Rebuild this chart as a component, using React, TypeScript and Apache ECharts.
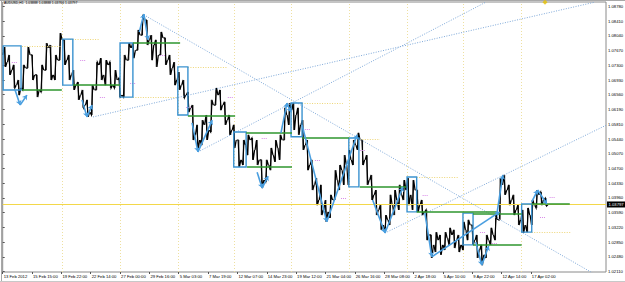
import React, { useEffect, useRef } from "react";
import * as echarts from "echarts";

// ---- axes ----
const tickStep = 64; // H1 bars between two time labels
const tickLabels = [
  "13 Feb 2012", "15 Feb 15:00", "19 Feb 22:00", "22 Feb 14:00", "27 Feb 00:00",
  "29 Feb 16:00", "5 Mar 03:00", "7 Mar 19:00", "12 Mar 07:00", "14 Mar 23:00",
  "19 Mar 12:00", "21 Mar 04:00", "26 Mar 16:00", "28 Mar 08:00", "2 Apr 18:00",
  "5 Apr 10:00", "9 Apr 22:00", "12 Apr 14:00", "17 Apr 02:00",
];
const priceLabels = [
  1.0878, 1.0841, 1.0804, 1.0767, 1.073, 1.0693, 1.0656, 1.0619, 1.0581, 1.0544,
  1.0507, 1.047, 1.0433, 1.0396, 1.0359, 1.0322, 1.0285, 1.0248, 1.0211,
];
const barMin = 0;
const barMax = 1316;
const priceMin = 1.020974;
const priceMax = 1.088933;
const symbolText = "AUDUSD,H1  1.03888 1.03888 1.03766 1.03797";

// ---- price (each candle aggregates 10 H1 bars) ----
const candleHours = 10;
const firstOpen = 1.0756;
const closes = [
  1.0738, 1.0718, 1.068, 1.0673, 1.0723, 1.0756, 1.0706, 1.0668, 1.0718, 1.0774,
  1.0706, 1.0743, 1.0794, 1.0743, 1.0706, 1.068, 1.0655, 1.063, 1.0612, 1.0668,
  1.0731, 1.0706, 1.0731, 1.068, 1.0693, 1.0655, 1.0743, 1.0774, 1.0768, 1.0806,
  1.0844, 1.0794, 1.0781, 1.0756, 1.0799, 1.0743, 1.0723, 1.0693, 1.068, 1.0655,
  1.0623, 1.0555, 1.0542, 1.058, 1.0567, 1.063, 1.0655, 1.063, 1.0592, 1.0567,
  1.0542, 1.0492, 1.0529, 1.0542, 1.0517, 1.0492, 1.0441, 1.0479, 1.0504, 1.0522,
  1.0542, 1.0605, 1.0617, 1.0605, 1.058, 1.0529, 1.0479, 1.0429, 1.0391, 1.0366,
  1.0361, 1.0391, 1.0441, 1.0466, 1.0479, 1.0492, 1.0529, 1.0542, 1.0492, 1.0441,
  1.0404, 1.0366, 1.0328, 1.0341, 1.0378, 1.0391, 1.0404, 1.0416, 1.0404, 1.0416,
  1.0378, 1.0361, 1.0303, 1.0278, 1.029, 1.0278, 1.0295, 1.0303, 1.029, 1.0278,
  1.0316, 1.0328, 1.029, 1.0265, 1.0253, 1.029, 1.0303, 1.0341, 1.0429, 1.0416,
  1.0391, 1.0366, 1.0341, 1.0328, 1.0353, 1.0378, 1.0404, 1.0391, 1.03797,
];
const highs = [
  1.0776, 1.0756, 1.0731, 1.0693, 1.0731, 1.0776, 1.0756, 1.0706, 1.0731, 1.0786,
  1.0781, 1.0756, 1.0811, 1.0794, 1.0756, 1.0718, 1.0688, 1.0668, 1.0643, 1.068,
  1.0738, 1.0748, 1.0743, 1.0738, 1.0718, 1.0698, 1.0756, 1.0786, 1.0786, 1.0819,
  1.0857, 1.0844, 1.0806, 1.0794, 1.0814, 1.0799, 1.0756, 1.0738, 1.0713, 1.0693,
  1.0663, 1.063, 1.058, 1.0592, 1.0605, 1.0643, 1.0673, 1.0668, 1.0638, 1.0605,
  1.058, 1.0542, 1.0542, 1.0555, 1.0547, 1.0542, 1.0492, 1.0492, 1.0522, 1.0542,
  1.0555, 1.0623, 1.0635, 1.0635, 1.0623, 1.0592, 1.0542, 1.0492, 1.0446, 1.0429,
  1.0391, 1.0404, 1.0466, 1.0479, 1.0504, 1.0517, 1.0542, 1.056, 1.0542, 1.0504,
  1.0454, 1.0416, 1.0378, 1.0353, 1.0404, 1.0416, 1.0429, 1.0441, 1.0446, 1.0441,
  1.0416, 1.0391, 1.0366, 1.0303, 1.031, 1.0303, 1.031, 1.0321, 1.0316, 1.0303,
  1.0336, 1.0341, 1.0328, 1.0303, 1.0278, 1.0303, 1.0321, 1.0353, 1.0446, 1.0454,
  1.0429, 1.0404, 1.0378, 1.0366, 1.0371, 1.0391, 1.0416, 1.0411, 1.0396,
];
const lows = [
  1.0726, 1.0706, 1.0673, 1.0655, 1.0668, 1.0723, 1.0693, 1.065, 1.0663, 1.0718,
  1.0693, 1.0693, 1.0743, 1.0731, 1.0693, 1.0668, 1.0643, 1.0623, 1.06, 1.0605,
  1.0668, 1.0693, 1.068, 1.0673, 1.0673, 1.065, 1.065, 1.0743, 1.0748, 1.0768,
  1.0806, 1.0781, 1.0743, 1.0726, 1.0756, 1.0731, 1.0706, 1.068, 1.0668, 1.0648,
  1.0612, 1.0542, 1.0517, 1.0529, 1.0542, 1.0562, 1.063, 1.0617, 1.058, 1.0555,
  1.0522, 1.0474, 1.0479, 1.0504, 1.0492, 1.0479, 1.0421, 1.0436, 1.0466, 1.0487,
  1.0492, 1.0542, 1.058, 1.0567, 1.0555, 1.0517, 1.0466, 1.0416, 1.0378, 1.0353,
  1.0336, 1.0346, 1.0391, 1.0416, 1.0429, 1.0429, 1.0479, 1.0517, 1.0479, 1.0429,
  1.0391, 1.0353, 1.0316, 1.0308, 1.0328, 1.0353, 1.0366, 1.0391, 1.0378, 1.0366,
  1.0361, 1.0353, 1.029, 1.0245, 1.026, 1.0253, 1.0265, 1.0278, 1.027, 1.026,
  1.0265, 1.029, 1.0278, 1.0245, 1.0227, 1.0245, 1.0278, 1.029, 1.0341, 1.0404,
  1.0378, 1.0353, 1.0328, 1.0308, 1.031, 1.0328, 1.0371, 1.0378, 1.0376,
];
const lastPrice = 1.03797;

// ---- weekly separators ----
const weekStarts = [130, 256, 383, 506, 630, 755, 882, 1005, 1131];

// ---- opening-range boxes ----
const boxStart = [1, 131, 256, 382, 504, 629, 755, 882, 1004, 1132];
const boxEnd = [40, 153, 284, 404, 531, 653, 777, 903, 1026, 1154];
const boxTop = [1.0779, 1.0796, 1.0786, 1.0726, 1.0562, 1.0635, 1.0547, 1.0449, 1.0358, 1.0381];
const boxBottom = [1.0668, 1.068, 1.065, 1.0605, 1.0474, 1.055, 1.0424, 1.0361, 1.0278, 1.031];

// ---- green levels ----
const levelStart = [42, 153, 284, 404, 531, 533, 653, 779, 903, 1026, 1026, 1154];
const levelEnd = [129, 256, 387, 507, 631, 631, 755, 880, 1078, 1132, 1132, 1237];
const levelPrice = [1.0668, 1.068, 1.0786, 1.0602, 1.056, 1.0474, 1.0547, 1.0424, 1.0361, 1.0356, 1.0278, 1.0381];

// ---- yellow dotted targets ----
const targetStart = [42, 147, 284, 404, 653, 779, 903, 1154];
const targetEnd = [129, 212, 380, 491, 742, 823, 993, 1241];
const targetPrice = [1.0779, 1.0796, 1.065, 1.0726, 1.0635, 1.0545, 1.0449, 1.031];

// ---- dotted trend lines ----
const trendFromBar = [308, 197, 426, 834];
const trendFromPrice = [1.0857, 1.06, 1.0512, 1.0308];
const trendToBar = [1287, 1292, 1054, 1316];
const trendToPrice = [1.0207, 1.0889, 1.0889, 1.0579];

// ---- swing arrows ----
const arrowFromBar = [27, 173, 298, 413, 555, 607, 653, 807, 921, 1032, 1078, 1154];
const arrowFromPrice = [1.0668, 1.0643, 1.0814, 1.0585, 1.0461, 1.056, 1.058, 1.0391, 1.0358, 1.0285, 1.0356, 1.0386];
const arrowTipBar = [38, 184, 308, 426, 566, 620, 707, 834, 936, 1045, 1091, 1167];
const arrowTipPrice = [1.063, 1.06, 1.0859, 1.0512, 1.0421, 1.0635, 1.0336, 1.0308, 1.0248, 1.0227, 1.0454, 1.0416];
const arrowToBar = [53, 195, 317, 457, 579, 629, 773, 873, 1084, 1060, null, 1187];
const arrowToPrice = [1.0655, 1.063, 1.0794, 1.0592, 1.0451, 1.0612, 1.0555, 1.0424, 1.0361, 1.0275, null, 1.0381];

// ---- small pink markers ----
const pinkBar = [20, 169, 212, 278, 343, 400, 491, 565, 659, 681, 738, 779, 916, 1041, 1067, 1172, 1193];
const pinkPrice = [1.0738, 1.0743, 1.065, 1.0685, 1.0756, 1.0625, 1.065, 1.0547, 1.057, 1.0492, 1.0396, 1.0517, 1.0404, 1.031, 1.0283, 1.0348, 1.0398];
const pinkBars = 11;

// ---- alert marker ----
const alertBar = 1183;
const alertPrice = 1.0889;

const FONT = "'Liberation Sans', Arial, sans-serif";

function buildOption() {
  const candles = closes.map((c, i) => [
    i * candleHours + candleHours / 2,
    i === 0 ? firstOpen : closes[i - 1],
    c,
    lows[i],
    highs[i],
  ]);

  const arrowSegs: any[] = [];
  arrowTipBar.forEach((tb, i) => {
    arrowSegs.push({ coords: [[arrowFromBar[i], arrowFromPrice[i]], [tb, arrowTipPrice[i]]] });
    if (arrowToBar[i] != null) {
      arrowSegs.push({ coords: [[tb, arrowTipPrice[i]], [arrowToBar[i], arrowToPrice[i]]] });
    }
  });

  return {
    animation: false,
    backgroundColor: "#ffffff",
    title: {
      text: symbolText,
      left: 4,
      top: 1.5,
      padding: 0,
      textStyle: { fontSize: 3.4, fontWeight: "normal", color: "#000", fontFamily: FONT },
    },
    grid: {
      left: 2.7,
      right: 19,
      top: 2,
      bottom: 10,
      show: true,
      borderColor: "#8a8a8a",
      borderWidth: 1,
      backgroundColor: "#ffffff",
      outerBoundsMode: "none",
    },
    xAxis: {
      type: "value",
      min: barMin,
      max: barMax,
      splitLine: { show: false },
      axisLine: { show: false },
      axisTick: {
        show: true,
        length: 2,
        customValues: tickLabels.map((_, i) => i * tickStep),
        lineStyle: { color: "#555" },
      },
      axisLabel: {
        customValues: tickLabels.map((_, i) => i * tickStep),
        formatter: (v: number) => tickLabels[Math.round(v / tickStep)] ?? "",
        align: "left",
        margin: 2.5,
        padding: [0, 0, 0, 1],
        fontSize: 4.2,
        color: "#000",
        fontFamily: FONT,
      },
    },
    yAxis: {
      type: "value",
      position: "right",
      min: priceMin,
      max: priceMax,
      scale: true,
      splitLine: { show: false },
      axisLine: { show: false },
      axisTick: {
        show: true,
        length: 2,
        customValues: priceLabels,
        lineStyle: { color: "#555" },
      },
      axisLabel: {
        customValues: priceLabels,
        formatter: (v: number) => v.toFixed(5),
        margin: 2,
        fontSize: 4.2,
        color: "#000",
        fontFamily: FONT,
      },
    },
    graphic: [
      { type: "line", shape: { x1: 0, y1: 0.5, x2: 625, y2: 0.5 }, style: { stroke: "#a8a8a8", lineWidth: 1 } },
      { type: "line", shape: { x1: 1.5, y1: 0, x2: 1.5, y2: 282 }, style: { stroke: "#a8a8a8", lineWidth: 1 } },
      { type: "line", shape: { x1: 0, y1: 281.5, x2: 625, y2: 281.5 }, style: { stroke: "#c8c8c8", lineWidth: 1 } },
    ],
    series: [
      {
        name: "weeks",
        type: "line",
        data: [],
        markLine: {
          silent: true,
          symbol: "none",
          precision: 5,
          z: 1,
          label: { show: false },
          lineStyle: { color: "#eee0a0", type: [1, 2], width: 1 },
          data: weekStarts.map((x) => ({ xAxis: x })),
        },
      },
      {
        name: "price",
        type: "custom",
        coordinateSystem: "cartesian2d",
        z: 2,
        silent: true,
        clip: true,
        data: candles,
        encode: { x: 0, y: [1, 2, 3, 4] },
        renderItem: (_params: any, api: any) => {
          const x = api.value(0);
          const o = api.value(1);
          const c = api.value(2);
          const l = api.value(3);
          const h = api.value(4);
          const up = c >= o;
          const pts = [
            api.coord([x - candleHours * 0.45, o]),
            api.coord([x - candleHours * 0.15, up ? l : h]),
            api.coord([x + candleHours * 0.15, up ? h : l]),
            api.coord([x + candleHours * 0.45, c]),
          ];
          const top = api.coord([x, h]);
          const bottom = api.coord([x, l]);
          return {
            type: "group",
            children: [
              {
                type: "polyline",
                shape: { points: pts },
                style: { stroke: "#000", fill: "none", lineWidth: 1.2 },
              },
              {
                type: "line",
                shape: { x1: top[0], y1: top[1], x2: bottom[0], y2: bottom[1] },
                style: { stroke: "#000", lineWidth: 0.9 },
              },
            ],
          };
        },
      },
      {
        name: "current",
        type: "line",
        data: [],
        markLine: {
          silent: true,
          symbol: "none",
          precision: 5,
          z: 3,
          lineStyle: { color: "#f3d84a", type: "solid", width: 1 },
          label: {
            show: true,
            position: "end",
            distance: 1,
            formatter: lastPrice.toFixed(5),
            backgroundColor: "#000",
            color: "#fff",
            fontSize: 4.2,
            fontFamily: FONT,
            padding: [1.2, 2, 0.8, 1.5],
          },
          data: [{ yAxis: lastPrice }],
        },
      },
      {
        name: "targets",
        type: "lines",
        coordinateSystem: "cartesian2d",
        z: 3,
        silent: true,
        lineStyle: { color: "#eed676", type: [1, 1.5], width: 1, opacity: 1 },
        data: targetStart.map((s, i) => ({ coords: [[s, targetPrice[i]], [targetEnd[i], targetPrice[i]]] })),
      },
      {
        name: "pink",
        type: "lines",
        coordinateSystem: "cartesian2d",
        z: 3,
        silent: true,
        lineStyle: { color: "#d98be8", type: [1, 1], width: 1, opacity: 1 },
        data: pinkBar.map((b, i) => ({ coords: [[b, pinkPrice[i]], [b + pinkBars, pinkPrice[i]]] })),
      },
      {
        name: "trends",
        type: "lines",
        coordinateSystem: "cartesian2d",
        z: 3,
        silent: true,
        lineStyle: { color: "#7ea8d8", type: [1, 1.5], width: 1, opacity: 1 },
        data: trendFromBar.map((b, i) => ({ coords: [[b, trendFromPrice[i]], [trendToBar[i], trendToPrice[i]]] })),
      },
      {
        name: "boxes",
        type: "line",
        data: [],
        markArea: {
          silent: true,
          z: 4,
          itemStyle: { color: "rgba(0,0,0,0)", borderColor: "#3a92d0", borderWidth: 1.4 },
          label: { show: false },
          data: boxStart.map((s, i) => [
            { coord: [s, boxTop[i]] },
            { coord: [boxEnd[i], boxBottom[i]] },
          ]),
        },
      },
      {
        name: "levels",
        type: "lines",
        coordinateSystem: "cartesian2d",
        z: 4,
        silent: true,
        lineStyle: { color: "#2e962e", width: 1.5, opacity: 1 },
        data: levelStart.map((s, i) => ({ coords: [[s, levelPrice[i]], [levelEnd[i], levelPrice[i]]] })),
      },
      {
        name: "arrows",
        type: "lines",
        coordinateSystem: "cartesian2d",
        z: 5,
        silent: true,
        symbol: ["none", "arrow"],
        symbolSize: 4.5,
        lineStyle: { color: "#4a9fe0", width: 1.6, opacity: 1 },
        data: arrowSegs,
      },
      {
        name: "alert",
        type: "scatter",
        z: 5,
        silent: true,
        clip: false,
        symbol: "diamond",
        symbolSize: 5,
        itemStyle: { color: "#e6c000" },
        data: [[alertBar, alertPrice]],
      },
    ],
  };
}

export default function App() {
  const ref = useRef<HTMLDivElement>(null);
  useEffect(() => {
    if (!ref.current) return;
    const chart = echarts.init(ref.current, null, { renderer: "svg" });
    chart.setOption(buildOption() as any);
    return () => chart.dispose();
  }, []);
  return (
    <div
      ref={ref}
      style={{ position: "fixed", left: 0, top: 0, width: 625, height: 282, background: "#fff" }}
    />
  );
}
